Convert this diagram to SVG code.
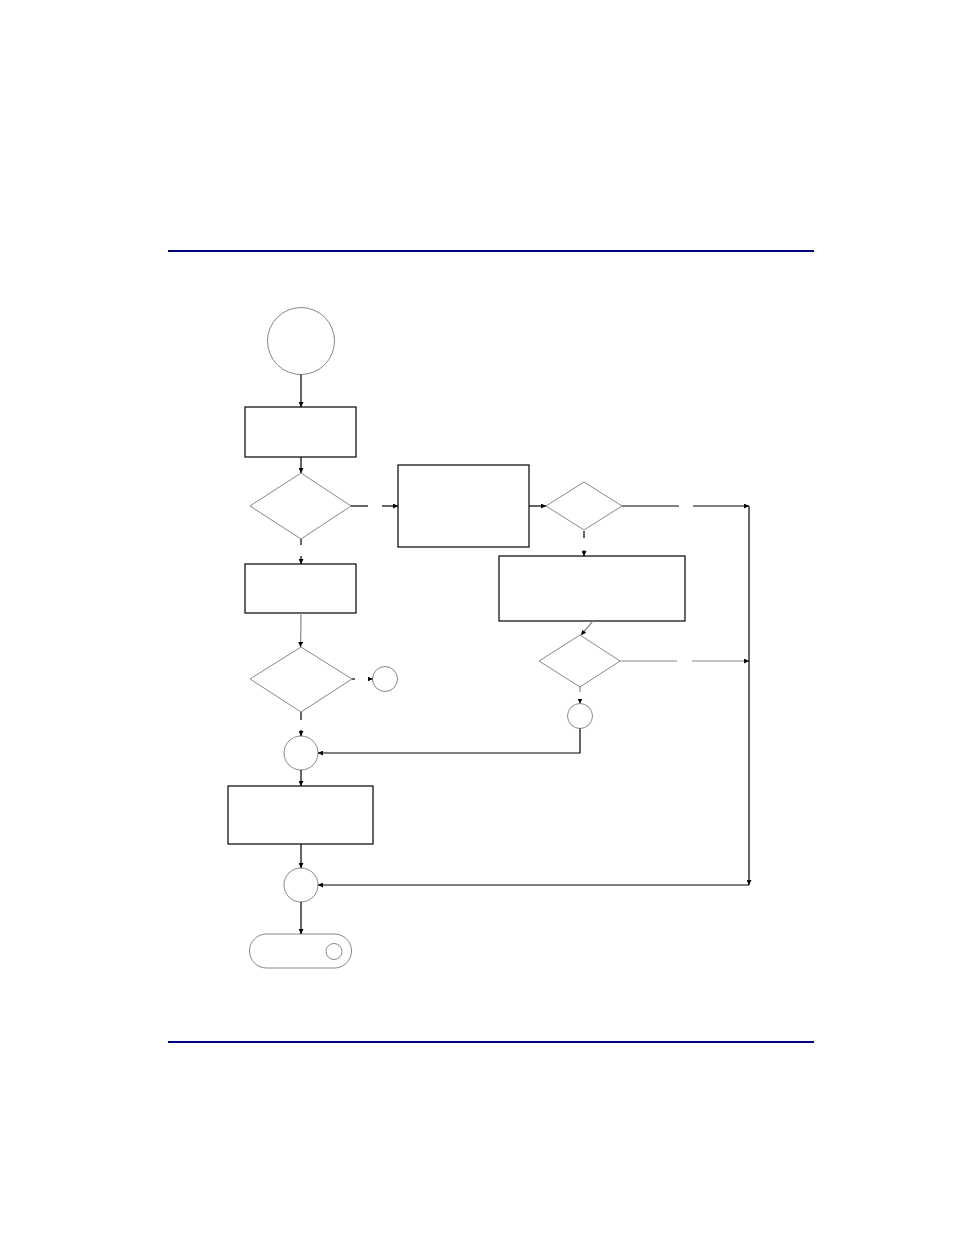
<svg xmlns="http://www.w3.org/2000/svg" width="954" height="1235" viewBox="0 0 954 1235">
<style>
.box{fill:none;stroke:#000;stroke-width:1.2}
.soft{fill:none;stroke:#888;stroke-width:1}
.ln{fill:none;stroke:#000;stroke-width:1.2}
.gln{fill:none;stroke:#888;stroke-width:1.2}
.rule{stroke:#000080;stroke-width:2.2}
</style>
<defs>
<marker id="ah" viewBox="0 0 10 10" refX="10" refY="5" markerWidth="5" markerHeight="5" orient="auto" markerUnits="userSpaceOnUse">
<path d="M0,0 L10,5 L0,10 z" fill="#000"/>
</marker>
</defs>
<rect width="954" height="1235" fill="#fff"/>
<line class="rule" x1="168" y1="251" x2="814" y2="251"/>
<line class="rule" x1="168" y1="1042" x2="814" y2="1042"/>

<g id="start"><circle class="soft" cx="301" cy="341" r="33.5"/></g>
<g id="rect1"><rect class="box" x="245" y="407" width="111" height="50"/></g>
<g id="dec1"><polygon class="soft" points="301,473 351,506 301,539 250,506"/></g>
<g id="rect2"><rect class="box" x="398" y="465" width="131" height="82"/></g>
<g id="dec2"><polygon class="soft" points="584,482 622,506 584,530 546,506"/></g>
<g id="rect3"><rect class="box" x="499" y="556" width="186" height="65"/></g>
<g id="dec3"><polygon class="soft" points="580,635 620,661 580,687 539,661"/></g>
<g id="conn3"><circle class="soft" cx="580" cy="716" r="12.5"/></g>
<g id="rect4"><rect class="box" x="245" y="564" width="111" height="49"/></g>
<g id="dec4"><polygon class="soft" points="301,647 352,679 301,712 250,679"/></g>
<g id="conn2"><circle class="soft" cx="385" cy="679" r="12.5"/></g>
<g id="merge1"><circle class="soft" cx="301" cy="753" r="17"/></g>
<g id="rect5"><rect class="box" x="228" y="786" width="145" height="58"/></g>
<g id="merge2"><circle class="soft" cx="301" cy="885" r="17"/></g>
<g id="end"><rect class="soft" x="249.5" y="934" width="102" height="34" rx="17" ry="17"/><circle class="soft" cx="334" cy="951.5" r="8"/></g>

<g id="connectors">
<line class="ln" x1="301" y1="374.5" x2="301" y2="407" marker-end="url(#ah)"/>
<line class="ln" x1="301" y1="457" x2="301" y2="473" marker-end="url(#ah)"/>
<line class="ln" x1="351" y1="506" x2="368" y2="506"/>
<line class="ln" x1="382" y1="506" x2="398" y2="506" marker-end="url(#ah)"/>
<line class="ln" x1="529" y1="506" x2="546" y2="506" marker-end="url(#ah)"/>
<line class="ln" x1="622" y1="506" x2="679" y2="506"/>
<line class="ln" x1="693" y1="506" x2="749" y2="506" marker-end="url(#ah)"/>
<line class="ln" x1="584" y1="531" x2="584" y2="538"/>
<line class="ln" x1="584" y1="550" x2="584" y2="556" marker-end="url(#ah)"/>
<line class="gln" x1="593" y1="621" x2="581" y2="635" marker-end="url(#ah)"/>
<line class="gln" x1="620" y1="661" x2="677" y2="661"/>
<line class="gln" x1="692" y1="661" x2="749" y2="661" marker-end="url(#ah)"/>
<line class="gln" x1="580" y1="687" x2="580" y2="692"/>
<line class="gln" x1="580" y1="699" x2="580" y2="703.5" marker-end="url(#ah)"/>
<polyline class="ln" points="580,728.5 580,753 318,753" marker-end="url(#ah)"/>
<line class="ln" x1="301" y1="539" x2="301" y2="545"/>
<line class="ln" x1="301" y1="556" x2="301" y2="564" marker-end="url(#ah)"/>
<path class="gln" d="M301,613 Q301,630 300.5,647" marker-end="url(#ah)"/>
<line class="ln" x1="352" y1="679" x2="355" y2="679"/>
<line class="ln" x1="368" y1="679" x2="372.5" y2="679" marker-end="url(#ah)"/>
<line class="ln" x1="301" y1="712" x2="301" y2="720"/>
<line class="ln" x1="301" y1="730" x2="301" y2="736" marker-end="url(#ah)"/>
<line class="ln" x1="301" y1="770" x2="301" y2="786" marker-end="url(#ah)"/>
<line class="ln" x1="301" y1="844" x2="301" y2="868" marker-end="url(#ah)"/>
<line class="ln" x1="301" y1="902" x2="301" y2="934" marker-end="url(#ah)"/>
<line class="ln" x1="749" y1="506" x2="749" y2="885" marker-end="url(#ah)"/>
<line class="ln" x1="749" y1="885" x2="318" y2="885" marker-end="url(#ah)"/>
</g>
</svg>
